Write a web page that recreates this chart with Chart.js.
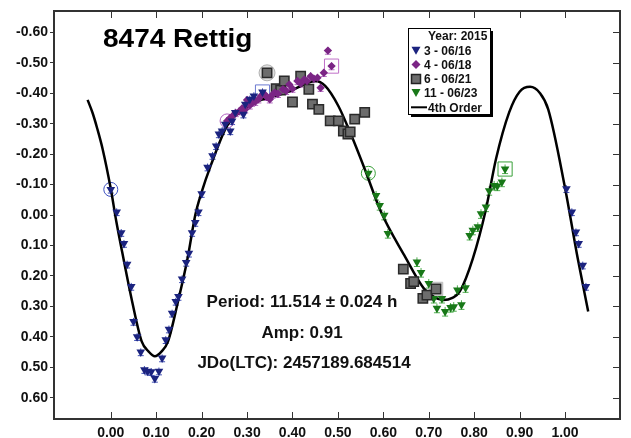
<!DOCTYPE html>
<html>
<head>
<meta charset="utf-8">
<script src="https://cdn.jsdelivr.net/npm/chart.js@4.4.1/dist/chart.umd.min.js"></script>
<style>
  html, body { margin: 0; padding: 0; background: #fff; }
</style>
</head>
<body>
<canvas id="lcChart" width="631" height="438"></canvas>
<script>
// === data: phase / magnitude per session ===
// session 3 - 06/16 (phase-wrapped points after 1.0 are kept in a separate array)
const s3Phase = [0.000, 0.013, 0.023, 0.029, 0.036, 0.045, 0.050, 0.058, 0.066, 0.074, 0.081, 0.089,
  0.097, 0.106, 0.113, 0.121, 0.128, 0.135, 0.143, 0.149, 0.157, 0.166, 0.172, 0.179, 0.186, 0.193,
  0.200, 0.213, 0.224, 0.232, 0.238, 0.245, 0.252, 0.263, 0.267, 0.274, 0.292, 0.296, 0.306, 0.315, 0.334];
const s3Mag = [-0.084, -0.010, 0.058, 0.094, 0.162, 0.235, 0.350, 0.400, 0.450, 0.508, 0.513, 0.515,
  0.537, 0.513, 0.470, 0.410, 0.375, 0.323, 0.284, 0.268, 0.210, 0.156, 0.126, 0.058, 0.025, -0.010,
  -0.070, -0.157, -0.195, -0.227, -0.266, -0.276, -0.298, -0.276, -0.309, -0.337, -0.331, -0.364, -0.380, -0.391, -0.404];
const s3WrapPhase = [1.003, 1.015, 1.024, 1.030, 1.039, 1.046];
const s3WrapMag = [-0.086, -0.010, 0.056, 0.094, 0.165, 0.235];

// session 4 - 06/18
const s4Phase = [0.256, 0.262, 0.268, 0.275, 0.283, 0.289, 0.296, 0.300, 0.306, 0.311, 0.318, 0.325,
  0.331, 0.339, 0.343, 0.350, 0.356, 0.361, 0.368, 0.379, 0.386, 0.393, 0.400, 0.411, 0.418, 0.426,
  0.432, 0.440, 0.447, 0.455, 0.462, 0.469, 0.478, 0.486];
const s4Mag = [-0.309, -0.318, -0.325, -0.335, -0.341, -0.350, -0.347, -0.378, -0.360, -0.369, -0.372, -0.380,
  -0.392, -0.396, -0.388, -0.380, -0.395, -0.402, -0.398, -0.413, -0.408, -0.429, -0.415, -0.440, -0.432, -0.445,
  -0.440, -0.456, -0.448, -0.451, -0.418, -0.467, -0.540, -0.489];

// session 6 - 06/21
const s6Phase = [0.344, 0.364, 0.374, 0.382, 0.400, 0.418, 0.436, 0.444, 0.458, 0.483, 0.501, 0.512,
  0.522, 0.527, 0.537, 0.559, 0.644, 0.660, 0.667, 0.687, 0.696, 0.716];
const s6Mag = [-0.467, -0.415, -0.410, -0.440, -0.371, -0.456, -0.413, -0.364, -0.347, -0.309, -0.309, -0.276,
  -0.266, -0.273, -0.315, -0.337, 0.178, 0.225, 0.219, 0.274, 0.263, 0.243];

// session 11 - 06/23
const s11Phase = [0.567, 0.584, 0.592, 0.602, 0.610, 0.674, 0.683, 0.700, 0.711, 0.718, 0.729, 0.736,
  0.748, 0.755, 0.763, 0.772, 0.781, 0.790, 0.797, 0.808, 0.815, 0.826, 0.833, 0.844, 0.851, 0.861, 0.868];
const s11Mag = [-0.137, -0.064, -0.031, 0.001, 0.061, 0.154, 0.189, 0.225, 0.274, 0.306, 0.274, 0.317,
  0.304, 0.301, 0.246, 0.295, 0.239, 0.067, 0.050, 0.039, -0.004, -0.026, -0.080, -0.097, -0.095, -0.108, -0.151];

// 4th order fit
const fitPhase = [-0.051, -0.040, -0.030, -0.018, 0.000, 0.012, 0.025, 0.047, 0.068, 0.083, 0.097, 0.112,
  0.126, 0.148, 0.169, 0.186, 0.200, 0.220, 0.256, 0.292, 0.335, 0.386, 0.436, 0.450, 0.472, 0.501, 0.530,
  0.559, 0.595, 0.646, 0.689, 0.712, 0.732, 0.752, 0.768, 0.797, 0.826, 0.848, 0.877, 0.900, 0.923, 0.945, 0.963,
  0.999, 1.028, 1.051];
const fitMag = [-0.378, -0.335, -0.285, -0.217, -0.086, 0.020, 0.121, 0.284, 0.415, 0.448, 0.464, 0.448,
  0.415, 0.284, 0.143, 0.000, -0.075, -0.162, -0.293, -0.347, -0.380, -0.402, -0.435, -0.440, -0.424, -0.358, -0.260,
  -0.151, -0.010, 0.132, 0.241, 0.270, 0.279, 0.272, 0.252, 0.143, -0.020, -0.184, -0.337, -0.405, -0.421, -0.400, -0.347,
  -0.097, 0.143, 0.317];

// error bar half-lengths (mag)
const ERR_S3 = 0.012;
const ERR_S4 = 0.012;
const ERR_S11 = 0.015;

// axis ticks
const X_TICKS = [0.0, 0.1, 0.2, 0.3, 0.4, 0.5, 0.6, 0.7, 0.8, 0.9, 1.0];
const Y_TICKS = [-0.6, -0.5, -0.4, -0.3, -0.2, -0.1, 0.0, 0.1, 0.2, 0.3, 0.4, 0.5, 0.6];

// labels
const TITLE = "8474 Rettig";
const INFO_LINES = ["Period: 11.514 \u00b1 0.024 h", "Amp: 0.91", "JDo(LTC): 2457189.684514"];
const LEGEND_TITLE = "Year: 2015";
const SERIES_NAMES = ["3 - 06/16", "4 - 06/18", "6 - 06/21", "11 - 06/23", "4th Order"];

// colours
const C_BLUE = "#1b237f";
const C_PURPLE = "#7b2585";
const C_GRAY = "#6d6d6d";
const C_GREEN = "#187818";

// === helpers ===
const toPts = (xs, ys) => xs.map((x, i) => ({ x: x, y: ys[i] }));
const firstPt = (xs, ys) => [{ x: xs[0], y: ys[0] }];
const lastPt = (xs, ys) => [{ x: xs[xs.length - 1], y: ys[ys.length - 1] }];

function markerDataset(data, style, radius, border, fill) {
  return {
    data: data,
    pointStyle: style,
    pointRadius: radius,
    pointBorderWidth: 1,
    pointBorderColor: border,
    pointBackgroundColor: fill || "rgba(0,0,0,0)",
    showLine: false,
    order: 5
  };
}

// === plugin: error bars under the markers ===
const errorBars = {
  id: "errorBars",
  beforeDatasetsDraw(chart) {
    const { ctx, scales: { x, y } } = chart;
    chart.data.datasets.forEach((ds) => {
      if (!ds.errBar) return;
      ctx.save();
      ctx.strokeStyle = ds.errColor;
      ctx.lineWidth = 1;
      ds.data.forEach(p => {
        const px = x.getPixelForValue(p.x);
        const y0 = y.getPixelForValue(p.y - ds.errBar);
        const y1 = y.getPixelForValue(p.y + ds.errBar);
        ctx.beginPath();
        ctx.moveTo(px, y0); ctx.lineTo(px, y1);
        ctx.moveTo(px - 3, y1); ctx.lineTo(px + 3, y1);
        ctx.stroke();
      });
      ctx.restore();
    });
  }
};

// === plugin: frame, inward ticks, texts, legend box ===
const decorations = {
  id: "decorations",
  afterDraw(chart) {
    const { ctx, chartArea: a, scales: { x, y } } = chart;
    ctx.save();

    // inward ticks top / bottom / right
    ctx.strokeStyle = "#333";
    ctx.lineWidth = 1;
    ctx.beginPath();
    X_TICKS.forEach(v => {
      const px = Math.round(x.getPixelForValue(v)) + 0.5;
      ctx.moveTo(px, a.top); ctx.lineTo(px, a.top + 7);
      ctx.moveTo(px, a.bottom); ctx.lineTo(px, a.bottom - 7);
    });
    Y_TICKS.forEach(v => {
      const py = Math.round(y.getPixelForValue(v)) + 0.5;
      ctx.moveTo(a.right, py); ctx.lineTo(a.right - 7, py);
    });
    ctx.stroke();

    // frame
    ctx.lineWidth = 2;
    ctx.strokeStyle = "#333";
    ctx.strokeRect(a.left, a.top, a.right - a.left, a.bottom - a.top);

    // title
    ctx.fillStyle = "#000";
    ctx.font = "bold 25px 'Liberation Sans', Arial, sans-serif";
    ctx.textBaseline = "alphabetic";
    ctx.textAlign = "left";
    ctx.save();
    ctx.translate(103, 47);
    ctx.scale(1.12, 1);
    ctx.fillText(TITLE, 0, 0);
    ctx.restore();

    // period / amp / epoch
    ctx.font = "bold 17px 'Liberation Sans', Arial, sans-serif";
    ctx.textAlign = "center";
    ctx.fillStyle = "#111";
    ctx.fillText(INFO_LINES[0], 302, 307);
    ctx.fillText(INFO_LINES[1], 302, 338);
    ctx.fillText(INFO_LINES[2], 304, 368);

    // legend box with shadow
    const bx = 408, by = 28, bw = 82, bh = 86;
    ctx.fillStyle = "#000";
    ctx.fillRect(bx + 3, by + 3, bw, bh);
    ctx.fillStyle = "#fff";
    ctx.fillRect(bx, by, bw, bh);
    ctx.strokeStyle = "#000";
    ctx.lineWidth = 1;
    ctx.strokeRect(bx + 0.5, by + 0.5, bw, bh);

    ctx.font = "bold 12px 'Liberation Sans', Arial, sans-serif";
    ctx.textAlign = "left";
    ctx.fillStyle = "#111";
    ctx.fillText(LEGEND_TITLE, 428, 39.5);

    const rows = [50.7, 64.5, 79, 93, 107.3];
    const mx = 416;
    // triangle down, blue
    ctx.fillStyle = C_BLUE;
    ctx.beginPath();
    ctx.moveTo(mx - 4.5, rows[0] - 4); ctx.lineTo(mx + 4.5, rows[0] - 4); ctx.lineTo(mx, rows[0] + 4);
    ctx.closePath(); ctx.fill();
    // diamond, purple
    ctx.fillStyle = C_PURPLE;
    ctx.beginPath();
    ctx.moveTo(mx, rows[1] - 4.5); ctx.lineTo(mx + 4.5, rows[1]); ctx.lineTo(mx, rows[1] + 4.5); ctx.lineTo(mx - 4.5, rows[1]);
    ctx.closePath(); ctx.fill();
    // square, gray
    ctx.fillStyle = C_GRAY;
    ctx.fillRect(mx - 4.5, rows[2] - 4.5, 9, 9);
    ctx.strokeStyle = "#222";
    ctx.lineWidth = 1.5;
    ctx.strokeRect(mx - 4.5, rows[2] - 4.5, 9, 9);
    // triangle down, green
    ctx.fillStyle = C_GREEN;
    ctx.beginPath();
    ctx.moveTo(mx - 4.5, rows[3] - 4); ctx.lineTo(mx + 4.5, rows[3] - 4); ctx.lineTo(mx, rows[3] + 4);
    ctx.closePath(); ctx.fill();
    // line
    ctx.strokeStyle = "#000";
    ctx.lineWidth = 2;
    ctx.beginPath();
    ctx.moveTo(411, rows[4]); ctx.lineTo(427, rows[4]);
    ctx.stroke();

    ctx.fillStyle = "#111";
    ctx.fillText(SERIES_NAMES[0], 424, rows[0] + 4.3);
    ctx.fillText(SERIES_NAMES[1], 424, rows[1] + 4.3);
    ctx.fillText(SERIES_NAMES[2], 424, rows[2] + 4.3);
    ctx.fillText(SERIES_NAMES[3], 424, rows[3] + 4.3);
    ctx.fillText(SERIES_NAMES[4], 428, rows[4] + 4.3);

    ctx.restore();
  }
};

// === datasets ===
const datasets = [
  {
    label: SERIES_NAMES[4],
    data: toPts(fitPhase, fitMag),
    showLine: true,
    borderColor: "#000",
    borderWidth: 2.5,
    pointRadius: 0,
    cubicInterpolationMode: "monotone",
    order: 2
  },
  {
    label: SERIES_NAMES[0],
    data: toPts(s3Phase.concat(s3WrapPhase), s3Mag.concat(s3WrapMag)),
    pointStyle: "triangle",
    rotation: 180,
    pointRadius: 5,
    pointBackgroundColor: C_BLUE,
    pointBorderColor: C_BLUE,
    pointBorderWidth: 0,
    errBar: ERR_S3,
    errColor: "#3f4fb5",
    order: 1
  },
  {
    label: SERIES_NAMES[1],
    data: toPts(s4Phase, s4Mag),
    pointStyle: "rectRot",
    pointRadius: 4.2,
    pointBackgroundColor: C_PURPLE,
    pointBorderColor: C_PURPLE,
    pointBorderWidth: 0,
    errBar: ERR_S4,
    errColor: "#b56cc2",
    order: 1
  },
  {
    label: SERIES_NAMES[2],
    data: toPts(s6Phase, s6Mag),
    pointStyle: "rect",
    pointRadius: 6.6,
    pointBackgroundColor: C_GRAY,
    pointBorderColor: "#2a2a2a",
    pointBorderWidth: 1.5,
    order: 1
  },
  {
    label: SERIES_NAMES[3],
    data: toPts(s11Phase, s11Mag),
    pointStyle: "triangle",
    rotation: 180,
    pointRadius: 5,
    pointBackgroundColor: C_GREEN,
    pointBorderColor: C_GREEN,
    pointBorderWidth: 0,
    errBar: ERR_S11,
    errColor: "#4fae4f",
    order: 1
  },
  // first point of each session: circle, last point: square
  markerDataset(firstPt(s3Phase, s3Mag), "circle", 7, "#3c4fc0"),
  markerDataset(firstPt(s4Phase, s4Mag), "circle", 7, "#b060c0"),
  markerDataset(firstPt(s6Phase, s6Mag), "circle", 8, "#b0b0b0", "#dedede"),
  markerDataset(firstPt(s11Phase, s11Mag), "circle", 7, "#3aa03a"),
  markerDataset(lastPt(s3Phase, s3Mag), "rect", 10, "#6a78d0"),
  markerDataset(lastPt(s4Phase, s4Mag), "rect", 10, "#c070c8"),
  markerDataset(lastPt(s6Phase, s6Mag), "rect", 9.5, "#b8b8b8", "#e4e4e4"),
  markerDataset(lastPt(s11Phase, s11Mag), "rect", 10, "#3aa03a")
];

// === Chart.js config ===
const tickFont = { family: "'Liberation Sans', Arial, sans-serif", size: 14, weight: "bold" };

const lcChart = new Chart(document.getElementById("lcChart").getContext("2d"), {
  type: "scatter",
  data: { datasets: datasets },
  options: {
    responsive: false,
    animation: false,
    devicePixelRatio: 1,
    layout: { padding: { top: 11, right: 1.5, left: 0, bottom: 0 } },
    plugins: {
      legend: { display: false },
      tooltip: { enabled: false },
      title: { display: false }
    },
    scales: {
      x: {
        type: "linear",
        min: -0.125,
        max: 1.121,
        afterBuildTicks: s => { s.ticks = X_TICKS.map(v => ({ value: v })); },
        afterFit: s => { s.height = 19; },
        ticks: {
          callback: v => Number(v).toFixed(2),
          font: tickFont,
          color: "#111",
          padding: 6,
          maxRotation: 0,
          autoSkip: false
        },
        grid: { drawOnChartArea: false, drawTicks: false },
        border: { display: false }
      },
      y: {
        type: "linear",
        reverse: true,
        min: -0.67,
        max: 0.67,
        afterBuildTicks: s => { s.ticks = Y_TICKS.map(v => ({ value: v })); },
        afterFit: s => { s.width = 54; },
        ticks: {
          callback: v => (Math.abs(v) < 1e-9 ? 0 : Number(v)).toFixed(2),
          font: tickFont,
          color: "#111",
          padding: 2,
          autoSkip: false
        },
        grid: { drawOnChartArea: false, drawTicks: true, tickLength: 4, color: "#333", lineWidth: 1 },
        border: { display: false }
      }
    }
  },
  plugins: [errorBars, decorations]
});
</script>
</body>
</html>
